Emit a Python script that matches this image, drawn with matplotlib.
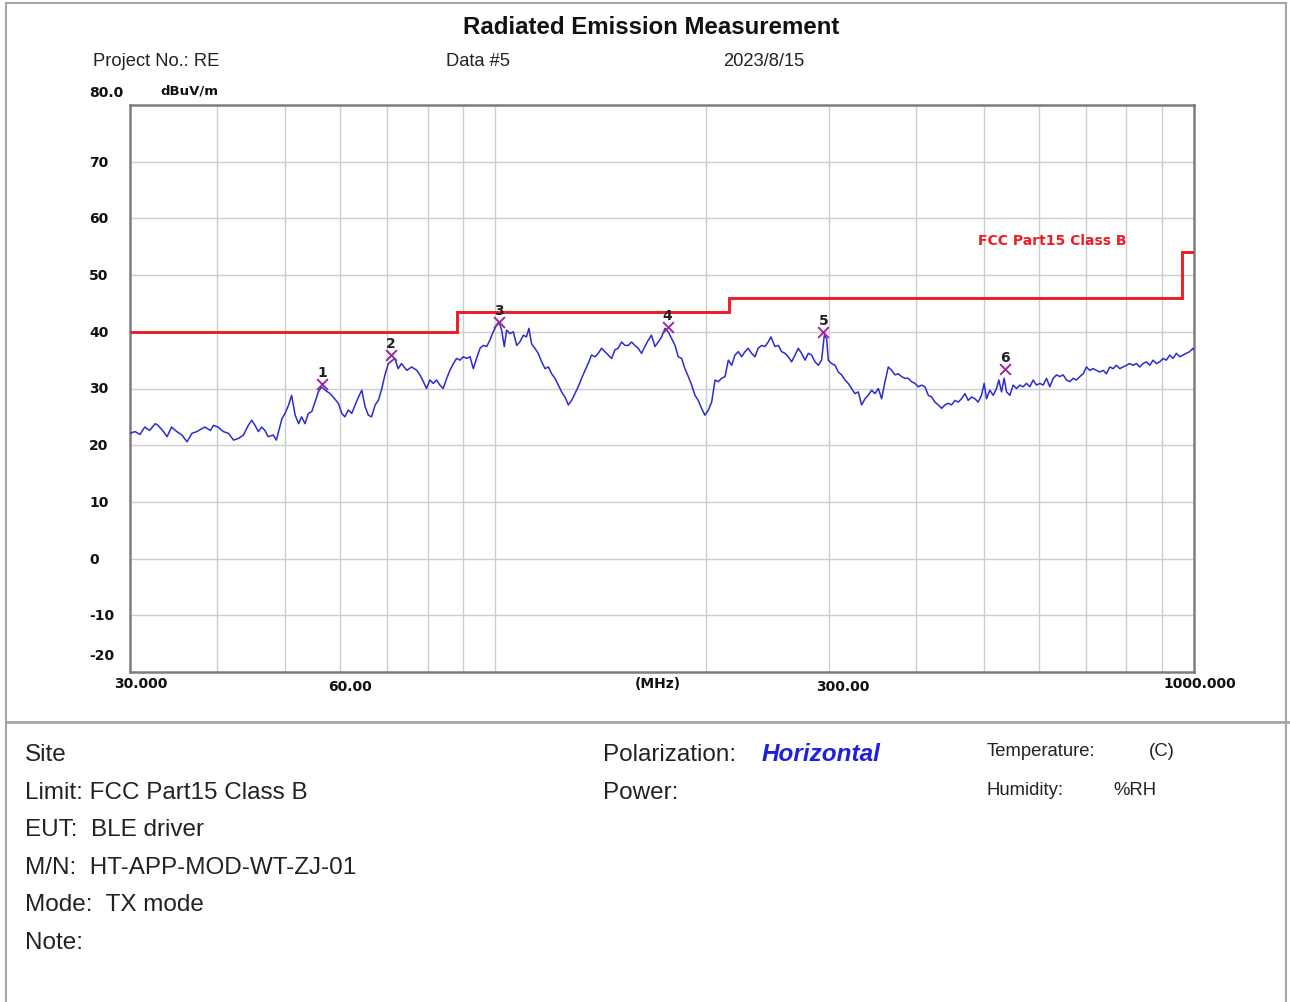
import matplotlib
matplotlib.use("Agg")
import matplotlib.pyplot as plt
import matplotlib.transforms as mtransforms
from matplotlib.lines import Line2D
from matplotlib.ticker import NullLocator

# ---------------- data ----------------
trace_freq = [
    30.0, 30.5, 31.0, 31.5, 32.0, 32.6, 32.9, 33.5, 33.9, 34.4, 35.0, 35.6, 36.2, 36.8, 37.4, 38.0,
    38.4, 39.1, 39.5, 40.1, 40.8, 41.5, 42.2, 42.9, 43.6, 44.3, 44.8, 45.3, 45.8, 46.3, 46.8, 47.3,
    48.1, 48.6, 49.0, 49.5, 50.0, 50.6, 51.1, 51.7, 52.3, 52.8, 53.4, 54.0, 54.6, 55.2, 55.8, 56.4,
    57.1, 58.0, 58.6, 59.6, 60.3, 60.9, 61.6, 62.3, 63.0, 63.7, 64.4, 65.1, 65.8, 66.5, 67.3, 68.0,
    68.8, 69.5, 70.3,
    71.8, 72.6, 73.4, 74.7, 75.9, 77.2, 78.0, 78.9, 79.7, 80.6, 81.5, 82.4, 83.3, 84.2, 85.2, 86.1,
    87.1, 88.0, 89.0, 90.0, 91.0, 92.0, 93.0, 94.0, 95.1, 96.1, 97.2, 98.2, 99.3, 100.4, 101.2, 102.1,
    103.0, 103.8, 104.9, 106.1, 107.3, 108.4, 109.7, 110.8, 111.7, 112.7, 113.9, 115.2, 116.5, 117.8,
    119.1, 120.4, 121.7, 123.1, 124.4, 125.8, 127.2, 128.6, 130.0, 131.4, 132.9, 134.4, 135.8, 137.3,
    138.9, 140.4, 141.9, 143.5, 145.1, 146.7, 148.3, 149.9, 151.6, 153.3, 155.0, 156.7, 158.4, 160.1,
    161.9, 163.7, 165.5, 167.3, 169.2, 171.1, 173.0,
    174.9, 176.8, 178.8, 180.8, 182.7, 184.8, 186.8, 188.9, 191.0, 193.1, 195.2, 197.3, 199.5, 201.8,
    204.0, 206.3, 208.5, 210.8, 213.2, 215.5, 217.9, 220.3, 222.7, 225.2, 227.7, 230.1, 232.7, 235.3,
    237.8, 240.5, 243.2, 245.8, 248.0, 251.3, 254.1, 256.9, 259.8, 262.6, 265.5, 268.5, 271.4, 274.4,
    277.5, 280.5, 283.6, 286.8, 289.9, 293.1, 295.7, 298.0, 299.6, 302.9, 306.3, 309.7, 313.1, 316.5,
    320.0, 323.6, 327.1, 330.8, 334.4, 338.2, 341.8, 345.6, 349.5, 353.3, 357.2, 361.2, 365.1, 369.2,
    373.3, 377.3, 381.5, 385.7, 389.9, 394.3, 398.6, 403.0, 407.5,
    412.0, 416.6, 421.2, 425.8, 430.5, 435.3, 440.1, 444.9, 449.8, 454.8, 459.8, 464.9, 470.0, 475.1,
    480.4, 485.7, 491.0, 496.4, 500.8, 504.7, 510.3, 515.9, 521.6, 525.6, 530.3, 534.9, 539.1, 545.1,
    551.0, 557.1, 563.3, 569.4, 575.8, 582.2, 588.5, 595.1, 601.7, 608.2, 615.0, 621.8, 628.7, 635.7,
    642.6, 649.7, 656.9, 664.2, 671.4, 678.9, 686.4, 693.9, 701.6, 709.4, 717.1, 725.1, 733.1, 741.1,
    749.3, 757.7, 765.9, 774.4, 783.0, 791.5, 800.3, 809.2, 818.0, 827.1, 836.3, 845.4, 854.8, 864.3,
    873.7, 883.4, 893.2, 902.9, 912.9, 923.1, 933.1, 943.5, 954.0, 964.4, 975.1, 985.9, 996.6, 1000.0,
]
trace_level = [
    22.1, 22.4, 21.9, 23.2, 22.6, 23.8, 23.5, 22.4, 21.5, 23.2, 22.4, 21.8, 20.6, 22.1, 22.4, 22.9,
    23.2, 22.6, 23.5, 23.2, 22.4, 22.1, 20.9, 21.2, 21.8, 23.5, 24.4, 23.5, 22.4, 23.2, 22.6, 21.5,
    21.8, 20.9, 22.6, 24.7, 25.6, 27.1, 28.8, 25.3, 23.8, 25.0, 23.8, 25.6, 25.9, 27.6, 29.4, 30.3,
    29.7, 29.1, 28.5, 27.4, 25.6, 25.0, 26.2, 25.6, 27.1, 28.5, 29.7, 26.8, 25.3, 25.0, 27.1, 27.9,
    30.0, 32.4, 34.4,
    35.3, 33.5, 34.4, 33.2, 33.8, 33.2, 32.4, 31.2, 30.0, 31.5, 30.9, 31.5, 30.6, 30.0, 31.8, 33.2,
    34.4, 35.3, 35.0, 35.6, 35.3, 35.6, 33.5, 35.3, 37.1, 37.6, 37.4, 38.5, 40.0, 41.2, 41.8, 40.3,
    37.4, 40.3, 39.7, 40.0, 37.6, 38.2, 39.4, 39.1, 40.6, 37.9, 37.1, 36.2, 34.7, 33.5,
    33.8, 32.6, 31.8, 30.6, 29.4, 28.5, 27.1, 27.9, 29.1, 30.3, 31.8, 33.2, 34.4, 35.9,
    35.6, 36.2, 37.1, 36.5, 35.9, 35.3, 36.8, 37.1, 38.2, 37.6, 37.6, 38.2, 37.6, 37.1,
    36.2, 37.4, 38.5, 39.4, 37.4, 38.2, 39.1,
    40.6, 40.0, 38.8, 37.6, 35.6, 35.3, 33.5, 32.1, 30.6, 28.8, 27.9, 26.5, 25.3, 26.2,
    27.6, 31.5, 31.2, 31.8, 32.1, 35.0, 34.1, 35.9, 36.5, 35.6, 36.5, 37.1, 36.2, 35.6,
    37.1, 37.6, 37.4, 38.2, 39.1, 37.4, 37.6, 36.5, 36.2, 35.6, 34.7, 35.9, 37.1, 36.2,
    35.0, 36.2, 35.9, 34.7, 34.1, 35.0, 39.4, 38.8, 35.0, 34.4, 34.1, 32.9, 32.4, 31.5,
    30.9, 30.0, 29.1, 29.4, 27.1, 28.2, 28.8, 29.7, 29.1, 30.0, 28.2, 31.2, 33.8, 33.2,
    32.4, 32.6, 32.1, 31.8, 31.8, 31.2, 30.9, 30.3, 30.6,
    30.3, 28.8, 28.5, 27.6, 27.1, 26.5, 27.1, 27.4, 27.1, 27.9, 27.6, 28.2, 29.1, 27.9,
    28.5, 28.2, 27.6, 28.8, 30.9, 28.2, 29.7, 28.8, 30.0, 31.5, 29.4, 31.8, 29.4, 28.8,
    30.6, 30.0, 30.6, 30.3, 30.9, 30.3, 31.5, 30.6, 30.9, 30.6, 31.8, 30.3, 31.8, 32.4,
    32.1, 32.4, 31.5, 31.2, 31.8, 31.5, 32.1, 32.6, 33.8, 33.2, 33.5, 33.2, 32.9, 33.2,
    32.6, 33.8, 33.5, 34.1, 33.5, 33.8, 34.1, 34.4, 34.1, 34.4, 33.8, 34.4, 34.7, 34.1,
    35.0, 34.4, 34.7, 35.3, 35.0, 35.9, 35.3, 36.2, 35.6, 35.9, 36.2, 36.5, 37.1, 36.8,
]

limit_edges = [30, 88, 216, 960, 1000]
limit_levels = [40, 43.5, 46, 54]

marker_ids = ["1", "2", "3", "4", "5", "6"]
marker_freq = [56.5, 70.8, 101.2, 176.5, 294.7, 536.4]
marker_level = [30.8, 35.9, 41.8, 40.8, 40.0, 33.5]

grid_freqs = [40, 50, 60, 70, 80, 90, 100, 200, 300, 400, 500, 600, 700, 800, 900]
grid_levels = [70, 60, 50, 40, 30, 20, 10, 0, -10]

ytick_values = [80, 70, 60, 50, 40, 30, 20, 10, 0, -10, -20]
ytick_labels = ["80.0", "70", "60", "50", "40", "30", "20", "10", "0", "-10", "-20"]
xtick_values = [30, 60, 300, 1000]
xtick_labels = ["30.000", "60.00", "300.00", "1000.000"]

# ---------------- figure ----------------
W, H = 1290, 1003
fig = plt.figure(figsize=(W / 100, H / 100), dpi=100)
fig.patch.set_facecolor("white")


def fx(px):
    return px / W


def fy(py):
    return 1 - py / H


ax = fig.add_axes([fx(130), fy(673), fx(1194) - fx(130), fy(106) - fy(673)])
ax.set_xscale("log")
ax.set_xlim(30, 1000)
ax.set_ylim(-20, 80)
ax.set_xticks(grid_freqs)
ax.xaxis.set_minor_locator(NullLocator())
ax.set_yticks(grid_levels)
ax.tick_params(length=0, labelbottom=False, labelleft=False)
ax.grid(True, color="#cdcdcd", lw=1.0)
ax.set_axisbelow(True)
for sp in ax.spines.values():
    sp.set_color("#7d7d7d")
    sp.set_linewidth(1.8)

# trace
ax.plot(trace_freq, trace_level, color="#2b2bd6", lw=1.1, zorder=3)
# limit
ax.stairs(limit_levels, limit_edges, baseline=None, color="#ee1c24", lw=2.1, zorder=4)
# markers
ax.scatter(marker_freq, marker_level, marker="x", s=60, color="#9a2a9a", linewidths=1.4, zorder=5)
for mid, f, l in zip(marker_ids, marker_freq, marker_level):
    ax.annotate(mid, (f, l), xytext=(0, 3.5), textcoords="offset points", ha="center", va="bottom",
                fontsize=10, fontweight="bold", family="DejaVu Sans", color="#222222", zorder=6)

fig.text(fx(1052), fy(241), "FCC Part15 Class B", ha="center", va="center", color="#ee1c24",
         fontsize=10, fontweight="bold", family="DejaVu Sans")

# y tick labels
ytrans = mtransforms.blended_transform_factory(fig.transFigure, ax.transData)
for v, lab in zip(ytick_values, ytick_labels):
    dy = 0
    if v == 80:
        dy = 13
    elif v == -20:
        dy = 17
    t = ytrans + mtransforms.ScaledTranslation(0, dy / 100, fig.dpi_scale_trans)
    fig.text(fx(89), v, lab, transform=t, ha="left", va="center", fontsize=10,
             fontweight="bold", family="DejaVu Sans", color="#111111")

# x tick labels
xtrans = mtransforms.blended_transform_factory(ax.transData, fig.transFigure)
xoffs = [11, 10, 14, 6]
xys = [684, 687, 687, 684]
for v, lab, o, yy in zip(xtick_values, xtick_labels, xoffs, xys):
    t = xtrans + mtransforms.ScaledTranslation(o / 100, 0, fig.dpi_scale_trans)
    fig.text(v, fy(yy), lab, transform=t, ha="center", va="center", fontsize=10,
             fontweight="bold", family="DejaVu Sans", color="#111111")
fig.text(fx(658), fy(684), "(MHz)", ha="center", va="center", fontsize=10,
         fontweight="bold", family="DejaVu Sans", color="#111111")

fig.text(fx(160), fy(91), "dBuV/m", ha="left", va="center", fontsize=9.5,
         fontweight="bold", family="DejaVu Sans", color="#111111")

# header
sans = "Liberation Sans"
fig.text(fx(651), fy(27), "Radiated Emission Measurement", ha="center", va="center",
         fontsize=17.3, fontweight="bold", family=sans, color="#111111")
fig.text(fx(93), fy(62), "Project No.: RE", ha="left", va="center", fontsize=13.2, family=sans, color="#222222")
fig.text(fx(446), fy(62), "Data #5", ha="left", va="center", fontsize=13.2, family=sans, color="#222222")
fig.text(fx(723), fy(62), "2023/8/15", ha="left", va="center", fontsize=13.2, family=sans, color="#222222")

# frame lines
bc = "#a5a5a5"
fig.add_artist(Line2D([fx(6), fx(1286)], [fy(4), fy(4)], color=bc, lw=1.5))
fig.add_artist(Line2D([fx(6), fx(6)], [fy(4), 0], color=bc, lw=1.5))
fig.add_artist(Line2D([fx(1286), fx(1286)], [fy(4), 0], color=bc, lw=1.5))
fig.add_artist(Line2D([fx(6), fx(1290)], [fy(723), fy(723)], color=bc, lw=2.0))

# info block
fs = 17.5
left_lines = [("Site", 755), ("Limit: FCC Part15 Class B", 793), ("EUT:  BLE driver", 830),
              ("M/N:  HT-APP-MOD-WT-ZJ-01", 868), ("Mode:  TX mode", 905), ("Note:", 943)]
for s, yy in left_lines:
    fig.text(fx(25), fy(yy), s, ha="left", va="center", fontsize=fs, family=sans, color="#222222")
fig.text(fx(603), fy(755), "Polarization:", ha="left", va="center", fontsize=fs, family=sans, color="#222222")
fig.text(fx(762), fy(755), "Horizontal", ha="left", va="center", fontsize=fs, family=sans,
         fontweight="bold", style="italic", color="#1f1fe0")
fig.text(fx(603), fy(793), "Power:", ha="left", va="center", fontsize=fs, family=sans, color="#222222")
fig.text(fx(987), fy(752), "Temperature:", ha="left", va="center", fontsize=13.3, family=sans, color="#222222")
fig.text(fx(1149), fy(752), "(C)", ha="left", va="center", fontsize=13.3, family=sans, color="#222222")
fig.text(fx(987), fy(791), "Humidity:", ha="left", va="center", fontsize=13.3, family=sans, color="#222222")
fig.text(fx(1113), fy(791), "%RH", ha="left", va="center", fontsize=13.3, family=sans, color="#222222")

fig.savefig("out.png", dpi=100, facecolor="white")
